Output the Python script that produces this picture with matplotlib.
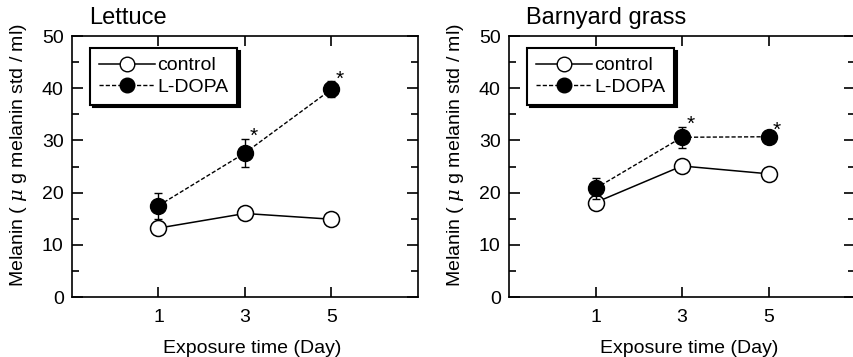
import matplotlib
matplotlib.use("Agg")
import matplotlib.pyplot as plt
from matplotlib.ticker import MultipleLocator
from matplotlib.lines import Line2D

plt.rcParams['font.family'] = ['Liberation Sans', 'DejaVu Sans']
plt.rcParams['mathtext.fontset'] = 'dejavuserif'

### data
days = [1, 3, 5]
panels = ["Lettuce", "Barnyard grass"]

lettuce_control = [13.2, 16.0, 14.9]
lettuce_control_err = [1.2, 0.4, 0.9]
lettuce_dopa = [17.5, 27.6, 39.8]
lettuce_dopa_err = [2.5, 2.7, 1.5]
lettuce_sig = [False, True, True]

barnyard_control = [18.1, 25.1, 23.6]
barnyard_control_err = [1.0, 0.5, 0.8]
barnyard_dopa = [20.8, 30.6, 30.7]
barnyard_dopa_err = [2.0, 2.0, 0.8]
barnyard_sig = [False, True, True]

control_series = [lettuce_control, barnyard_control]
control_errs = [lettuce_control_err, barnyard_control_err]
dopa_series = [lettuce_dopa, barnyard_dopa]
dopa_errs = [lettuce_dopa_err, barnyard_dopa_err]
sig_marks = [lettuce_sig, barnyard_sig]

dash = (0, (3, 1.5))

fig = plt.figure(figsize=(8.54, 3.57), dpi=100)
lefts = [72 / 854, 509 / 854]

for i in range(2):
    ax = fig.add_axes([lefts[i], 60 / 357, 346 / 854, 261 / 357])

    ax.errorbar(days, control_series[i], yerr=control_errs[i], color='black',
                marker='o', markersize=11.5, markerfacecolor='white', markeredgewidth=1.1,
                linewidth=1.1, capsize=3, elinewidth=1, zorder=3)
    ax.errorbar(days, dopa_series[i], yerr=dopa_errs[i], color='black',
                marker='o', markersize=11.5, markerfacecolor='black',
                linestyle=dash, linewidth=1, capsize=3, elinewidth=1, zorder=4)

    # asterisks for significant points
    for d, v, e, s in zip(days, dopa_series[i], dopa_errs[i], sig_marks[i]):
        if s:
            ax.annotate('*', xy=(d, v + e), xytext=(6, -5), textcoords='offset points',
                        ha='center', va='bottom', fontsize=15)

    ax.set_xlim(-1, 7)
    ax.set_ylim(0, 50)
    ax.set_xticks(days)
    ax.yaxis.set_major_locator(MultipleLocator(10))
    ax.yaxis.set_minor_locator(MultipleLocator(5))
    ax.tick_params(axis='both', which='both', direction='in', top=True, right=True,
                   labelsize=14, width=1.2)
    ax.tick_params(axis='x', which='major', length=7, pad=9)
    ax.tick_params(axis='y', which='major', length=8, pad=6)
    ax.tick_params(axis='y', which='minor', length=5)
    for sp in ax.spines.values():
        sp.set_linewidth(1.2)

    ax.set_xlabel('Exposure time (Day)', fontsize=14)
    ax.xaxis.set_label_coords(0.52, -0.165)
    ax.set_ylabel('Melanin ( $\\mu$ g melanin std / ml)', fontsize=14)
    ax.yaxis.set_label_coords(-0.125, 0.545)

    ax.text(0.05, 1.025, panels[i], transform=ax.transAxes, fontsize=17,
            ha='left', va='bottom')

    handles = [Line2D([], [], color='black', marker='o', markersize=10.5,
                      markerfacecolor='white', linewidth=1.1),
               Line2D([], [], color='black', marker='o', markersize=10.5,
                      markerfacecolor='black', linestyle=dash, linewidth=1)]
    leg = ax.legend(handles, ['control', 'L-DOPA'], loc='upper left',
                    bbox_to_anchor=(0.052, 0.954), fontsize=14,
                    handlelength=2.9, handletextpad=0.1, borderpad=0.45,
                    labelspacing=0.2, borderaxespad=0, fancybox=False, framealpha=1,
                    shadow={'facecolor': 'black', 'alpha': 1, 'edgecolor': 'black'})
    leg.get_frame().set_edgecolor('black')
    leg.get_frame().set_linewidth(1.5)

fig.savefig('out.png', dpi=100)
